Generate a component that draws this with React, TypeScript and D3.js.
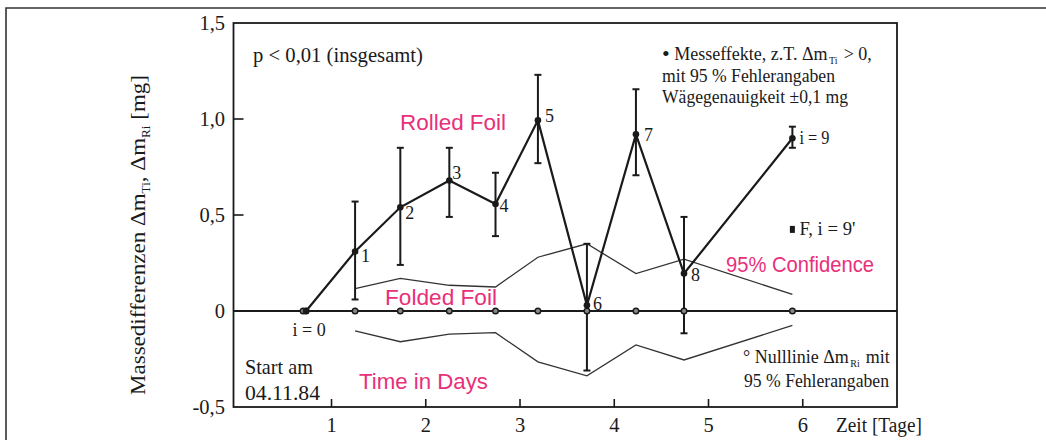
import React from "react";
import * as d3 from "d3";

// ---- data ----
const times = [0.73, 1.25, 1.73, 2.25, 2.74, 3.19, 3.71, 4.23, 4.74, 5.89];
const effects = [0, 0.31, 0.54, 0.68, 0.557, 0.993, 0.03, 0.92, 0.195, 0.9];
const errHigh = [null, 0.57, 0.85, 0.85, 0.72, 1.23, 0.35, 1.155, 0.49, 0.96];
const errLow = [null, 0.06, 0.24, 0.49, 0.39, 0.77, -0.31, 0.707, -0.116, 0.85];
const pointLabels = ["", "1", "2", "3", "4", "5", "6", "7", "8", "i = 9"];

const confTimes = [1.25, 1.73, 2.25, 2.74, 3.19, 3.71, 4.23, 4.74, 5.89];
const confUpper = [0.117, 0.17, 0.134, 0.125, 0.28, 0.35, 0.195, 0.27, 0.087];
const confLower = [-0.104, -0.16, -0.12, -0.113, -0.265, -0.338, -0.177, -0.255, -0.075];

const fPoint = { t: 5.89, v: 0.425 };

const xTicks = [1, 2, 3, 4, 5, 6];
const yTicks = [-0.5, 0, 0.5, 1.0, 1.5];
const yTickLabels = ["-0,5", "0", "0,5", "1,0", "1,5"];

// ---- layout ----
const W = 1046;
const H = 440;
const plot = { left: 233.5, right: 897, top: 23, bottom: 407 };
const SERIF = "'Liberation Serif', 'Times New Roman', serif";
const SANS = "'Liberation Sans', Arial, sans-serif";
const PINK = "#e8307a";
const INK = "#1a1a1a";

// label offsets (layout, relative to the point)
const labelDx = [0, 6, 5, 3, 4, 7, 6, 8, 7, 7];
const labelDy = [0, 11, 12, -1, 8, 2, 5, 7, 7, 6];

const fit = { lengthAdjust: "spacingAndGlyphs" as const };

export default function App() {
  const x = d3.scaleLinear().domain([-0.04, 7.0]).range([plot.left, plot.right]);
  const y = d3.scaleLinear().domain([-0.5, 1.5]).range([plot.bottom, plot.top]);

  const line = d3
    .line<number>()
    .x((_, i) => x(times[i]))
    .y((d) => y(d));
  const confLine = d3
    .line<number>()
    .x((_, i) => x(confTimes[i]))
    .y((d) => y(d));

  const y0 = y(0);

  return (
    <svg
      width={W}
      height={H}
      style={{ position: "absolute", left: 0, top: 0, background: "#fff" }}
    >
      <rect x={0} y={0} width={W} height={H} fill="#fff" />
      {/* outer image frame */}
      <path d={`M6,${H} V8 H${W}`} fill="none" stroke="#333" strokeWidth={1.6} />

      {/* plot frame */}
      <rect
        x={plot.left}
        y={plot.top}
        width={plot.right - plot.left}
        height={plot.bottom - plot.top}
        fill="none"
        stroke={INK}
        strokeWidth={1.8}
      />

      {/* y ticks (inside) */}
      {yTicks.map((t, i) => (
        <g key={"yt" + i}>
          {t !== 0 && t !== -0.5 && t !== 1.5 && (
            <line x1={plot.left} x2={plot.left + 10} y1={y(t)} y2={y(t)} stroke={INK} strokeWidth={1.6} />
          )}
          <text
            x={225}
            y={y(t) + 7}
            textAnchor="end"
            fontFamily={SERIF}
            fontSize={20.5}
            fill={INK}
          >
            {yTickLabels[i]}
          </text>
        </g>
      ))}

      {/* x ticks (inside) */}
      {xTicks.map((t) => (
        <g key={"xt" + t}>
          <line x1={x(t)} x2={x(t)} y1={plot.bottom} y2={plot.bottom - 8} stroke={INK} strokeWidth={1.6} />
          <text x={x(t)} y={432} textAnchor="middle" fontFamily={SERIF} fontSize={20.5} fill={INK}>
            {t}
          </text>
        </g>
      ))}
      <text x={836} y={432} fontFamily={SERIF} fontSize={20} fill={INK} textLength={86} {...fit}>
        Zeit [Tage]
      </text>

      {/* y axis title */}
      <text
        transform={`translate(145,235) rotate(-90)`}
        textAnchor="middle"
        fontFamily={SERIF}
        fontSize={21}
        fill={INK}
        textLength={320}
        {...fit}
      >
        Massedifferenzen Δm
        <tspan fontSize={12} dy={5}>Ti</tspan>
        <tspan dy={-5}>, Δm</tspan>
        <tspan fontSize={12} dy={5}>Ri</tspan>
        <tspan dy={-5}> [mg]</tspan>
      </text>

      {/* zero (null) line */}
      <line x1={plot.left} x2={plot.right} y1={y0} y2={y0} stroke={INK} strokeWidth={2} />

      {/* confidence band lines */}
      <path d={confLine(confUpper) || ""} fill="none" stroke="#333" strokeWidth={1.3} />
      <path d={confLine(confLower) || ""} fill="none" stroke="#333" strokeWidth={1.3} />

      {/* error bars */}
      {times.map((t, i) =>
        errHigh[i] === null ? null : (
          <g key={"eb" + i} stroke={INK} strokeWidth={2}>
            <line x1={x(t)} x2={x(t)} y1={y(errHigh[i] as number)} y2={y(errLow[i] as number)} />
            <line x1={x(t) - 3.5} x2={x(t) + 3.5} y1={y(errHigh[i] as number)} y2={y(errHigh[i] as number)} />
            <line x1={x(t) - 3.5} x2={x(t) + 3.5} y1={y(errLow[i] as number)} y2={y(errLow[i] as number)} />
          </g>
        )
      )}

      {/* measurement line */}
      <path d={line(effects) || ""} fill="none" stroke={INK} strokeWidth={2.2} />

      {/* null line circles */}
      {times.map((t, i) => (
        <circle key={"nc" + i} cx={x(t)} cy={y0} r={2.8} fill="#888" stroke={INK} strokeWidth={1.4} />
      ))}
      <circle cx={x(times[0]) - 3} cy={y0} r={2.8} fill="#888" stroke={INK} strokeWidth={1.4} />

      {/* measurement points */}
      {times.map((t, i) => (
        <circle key={"mp" + i} cx={x(t)} cy={y(effects[i])} r={3.3} fill={INK} />
      ))}

      {/* point labels */}
      {times.map((t, i) =>
        pointLabels[i] ? (
          <text
            key={"pl" + i}
            x={x(t) + labelDx[i]}
            y={y(effects[i]) + labelDy[i]}
            fontFamily={SERIF}
            fontSize={18}
            fill={INK}
            {...(i === 9 ? { textLength: 30, ...fit } : {})}
          >
            {pointLabels[i]}
          </text>
        ) : null
      )}
      <text x={x(times[0]) + 3} y={y0 + 25} textAnchor="middle" fontFamily={SERIF} fontSize={18} fill={INK}>
        i = 0
      </text>

      {/* F point */}
      <rect x={x(fPoint.t) - 2.5} y={y(fPoint.v) - 3.5} width={5} height={7} fill={INK} />
      <text x={x(fPoint.t) + 7} y={y(fPoint.v) + 6} fontFamily={SERIF} fontSize={19} fill={INK} textLength={56} {...fit}>
        F, i = 9'
      </text>

      {/* annotations */}
      <text x={253} y={62} fontFamily={SERIF} fontSize={20.5} fill={INK} textLength={170} {...fit}>
        p &lt; 0,01 (insgesamt)
      </text>

      <g fontFamily={SERIF} fontSize={18} fill={INK}>
        <text x={662} y={60}>
          <tspan fontSize={22} dy={1}>•</tspan>
          <tspan dy={-1}> Messeffekte, z.T. Δm</tspan>
          <tspan fontSize={10} dy={4} dx={1.5}>Ti</tspan>
          <tspan dy={-4} dx={1.5}> &gt; 0,</tspan>
        </text>
        <text x={662} y={82} textLength={173} {...fit}>mit 95 % Fehlerangaben</text>
        <text x={662} y={103} textLength={186} {...fit}>Wägegenauigkeit ±0,1 mg</text>

        <text x={743} y={363}>
          ° Nulllinie Δm
          <tspan fontSize={10} dy={4} dx={1.5}>Ri</tspan>
          <tspan dy={-4} dx={1.5}> mit</tspan>
        </text>
        <text x={744} y={387} textLength={145} {...fit}>95 % Fehlerangaben</text>
      </g>

      <g fontFamily={SERIF} fontSize={21} fill={INK}>
        <text x={245} y={374} textLength={68} {...fit}>Start am</text>
        <text x={245} y={400} textLength={75} {...fit}>04.11.84</text>
      </g>

      <g fontFamily={SANS} fontSize={21.5} fill={PINK}>
        <text x={400} y={130} textLength={106} {...fit}>Rolled Foil</text>
        <text x={385} y={305} textLength={112} {...fit}>Folded Foil</text>
        <text x={359} y={389} textLength={129} {...fit}>Time in Days</text>
        <text x={726} y={272} textLength={148} {...fit}>95% Confidence</text>
      </g>
    </svg>
  );
}
